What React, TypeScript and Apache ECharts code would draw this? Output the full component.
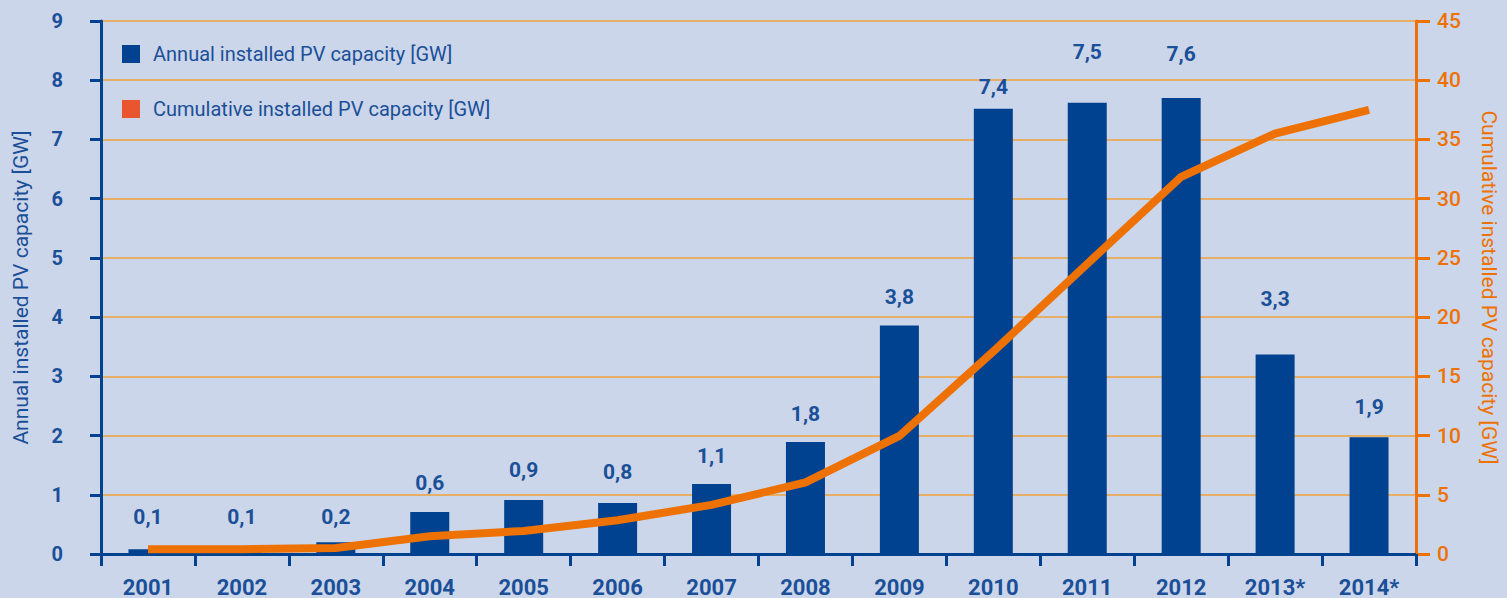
import React, { useEffect, useRef } from "react";
import * as echarts from "echarts";

// ---- data ----
const years = ["2001", "2002", "2003", "2004", "2005", "2006", "2007", "2008", "2009", "2010", "2011", "2012", "2013*", "2014*"];
const annualGW = [0.08, 0.08, 0.2, 0.71, 0.91, 0.86, 1.18, 1.89, 3.86, 7.52, 7.62, 7.7, 3.37, 1.97];
const annualLabels = ["0,1", "0,1", "0,2", "0,6", "0,9", "0,8", "1,1", "1,8", "3,8", "7,4", "7,5", "7,6", "3,3", "1,9"];
const cumulativeGW = [0.4, 0.4, 0.5, 1.5, 1.95, 2.85, 4.15, 6.05, 9.97, 17.1, 24.5, 31.85, 35.5, 37.5];
const leftTicks = { min: 0, max: 9, interval: 1 };
const rightTicks = { min: 0, max: 45, interval: 5 };
const annualName = "Annual installed PV capacity [GW]";
const cumulativeName = "Cumulative installed PV capacity [GW]";

// ---- style ----
const labelDistance = [22, 22, 15, 18, 20, 21, 18, 18, 18, 11, 40, 33, 45, 20];
const BG = "#cbd6ea";
const BLUE = "#00428f";
const TEXTBLUE = "#1b4f98";
const ORANGE = "#ee7203";
const LEGEND_ORANGE = "#e9552e";
const GRID = "#f0a238";
const FONT = "'Roboto', sans-serif";

export default function App() {
  const ref = useRef<HTMLDivElement>(null);
  useEffect(() => {
    if (!ref.current) return;
    const chart = echarts.init(ref.current, undefined, { renderer: "svg" });
    chart.setOption({
      animation: false,
      backgroundColor: BG,
      textStyle: { fontFamily: FONT },
      grid: { left: 101, right: 90, top: 21, bottom: 43, containLabel: false },
      legend: {
        orient: "vertical",
        left: 117,
        top: 39,
        itemWidth: 18,
        itemHeight: 18,
        itemGap: 35,
        icon: "rect",
        textStyle: { fontFamily: FONT, fontSize: 20, lineHeight: 18, color: TEXTBLUE, padding: [0, 0, 0, 8] },
        data: [
          { name: annualName, itemStyle: { color: BLUE } },
          { name: cumulativeName, itemStyle: { color: LEGEND_ORANGE } },
        ],
      },
      xAxis: {
        type: "category",
        data: years,
        boundaryGap: true,
        axisLine: { lineStyle: { color: BLUE, width: 3 } },
        axisTick: { show: true, interval: 0, length: 12, lineStyle: { color: BLUE, width: 3 } },
        axisLabel: { interval: 0, margin: 22, color: TEXTBLUE, fontSize: 22, fontWeight: "bold", fontFamily: FONT },
        splitLine: { show: false },
      },
      yAxis: [
        {
          type: "value",
          position: "left",
          min: leftTicks.min,
          max: leftTicks.max,
          interval: leftTicks.interval,
          name: annualName,
          nameLocation: "middle",
          nameGap: 70,
          nameTextStyle: { color: TEXTBLUE, fontSize: 21, fontFamily: FONT },
          axisLine: { show: true, lineStyle: { color: BLUE, width: 3 } },
          axisTick: { show: true, length: 11, lineStyle: { color: BLUE, width: 3 } },
          axisLabel: { margin: 38, color: TEXTBLUE, fontSize: 20, fontWeight: "bold", fontFamily: FONT },
          splitLine: { show: true, lineStyle: { color: GRID, width: 1.5 } },
        },
        {
          type: "value",
          position: "right",
          min: rightTicks.min,
          max: rightTicks.max,
          interval: rightTicks.interval,
          name: cumulativeName,
          nameLocation: "middle",
          nameGap: 62,
          nameRotate: -90,
          nameTextStyle: { color: ORANGE, fontSize: 21, fontFamily: FONT },
          axisLine: { show: true, lineStyle: { color: ORANGE, width: 3 } },
          axisTick: { show: true, length: 14, lineStyle: { color: ORANGE, width: 3 } },
          axisLabel: { margin: 21, color: ORANGE, fontSize: 21, fontWeight: 500, fontFamily: FONT },
          splitLine: { show: false },
        },
      ],
      series: [
        {
          name: annualName,
          type: "bar",
          yAxisIndex: 0,
          barWidth: 39,
          itemStyle: { color: BLUE },
          label: {
            show: true,
            position: "top",
            color: TEXTBLUE,
            fontSize: 21,
            fontWeight: "bold",
            fontFamily: FONT,
            formatter: (p: any) => annualLabels[p.dataIndex],
          },
          data: annualGW.map((v, i) => ({ value: v, label: { distance: labelDistance[i] } })),
          z: 2,
        },
        {
          name: cumulativeName,
          type: "line",
          yAxisIndex: 1,
          symbol: "none",
          itemStyle: { color: LEGEND_ORANGE },
          lineStyle: { color: ORANGE, width: 8, join: "miter" },
          data: cumulativeGW,
          z: 3,
        },
      ],
    });
    return () => chart.dispose();
  }, []);
  return <div ref={ref} style={{ position: "fixed", left: 0, top: 0, width: 1507, height: 598 }} />;
}
